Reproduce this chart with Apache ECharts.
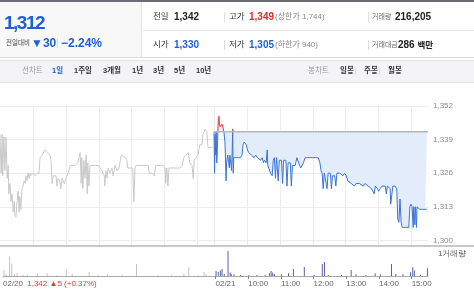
<!DOCTYPE html>
<html><head><meta charset="utf-8">
<script src="https://cdn.jsdelivr.net/npm/echarts@6/dist/echarts.min.js"></script>
<style>
body{margin:0;background:#fff;font-family:"Liberation Sans","Noto Sans CJK KR",sans-serif;}
#wrap{position:relative;width:474px;height:304px;overflow:hidden;}
#chart{position:absolute;left:0;top:0;width:474px;height:304px;}
.a{position:absolute;white-space:nowrap;line-height:1;}
.lb{font-size:8.5px;color:#333;}
.v{font-size:10px;font-weight:bold;color:#222;}
.g{font-size:8px;color:#888;}
.sep{position:absolute;width:1px;height:10px;background:#ddd;}
.tb{position:absolute;font-size:7.5px;color:#333;font-weight:bold;line-height:1;white-space:nowrap;}
</style></head>
<body><div id="wrap">
<div id="chart"></div>
<div style="position:absolute;left:0;top:0;width:474px;height:2px;background:#6b6e74"></div>
<div style="position:absolute;left:0;top:2px;width:141px;height:55px;background:#f8f8f9;border-right:1px solid #e3e3e3"></div>
<div style="position:absolute;left:0;top:57px;width:474px;height:1px;background:#dcdcdc"></div>
<div style="position:absolute;left:142px;top:30px;width:332px;height:1px;background:#e8e8e8"></div>
<div class="a" style="left:4px;top:13px;font-size:19px;font-weight:bold;color:#1f5fd5;letter-spacing:-1.5px">1,312</div>
<div class="a" style="left:6px;top:40px;font-size:6.5px;color:#444">전일대비</div>
<div class="a" style="left:31px;top:37px;font-size:12px;font-weight:bold;color:#1f5fd5">▼30</div>
<div class="sep" style="left:57px;top:38px;height:10px"></div>
<div class="a" style="left:61px;top:37px;font-size:12px;font-weight:bold;color:#1f5fd5">−2.24%</div>

<div class="a lb" style="left:153px;top:12px">전일</div>
<div class="a v" style="left:174px;top:12px">1,342</div>
<div class="sep" style="left:224px;top:12px"></div>
<div class="a lb" style="left:229px;top:12px">고가</div>
<div class="a v" style="left:249px;top:12px;color:#e3262e">1,349</div>
<div class="a g" style="left:275px;top:13px">(상한가 1,744)</div>
<div class="sep" style="left:368px;top:12px"></div>
<div class="a g" style="left:372px;top:13px;font-size:7px;color:#666">거래량</div>
<div class="a v" style="left:395px;top:12px">216,205</div>

<div class="a lb" style="left:153px;top:40px">시가</div>
<div class="a v" style="left:174px;top:40px;color:#1f5fd5">1,330</div>
<div class="sep" style="left:224px;top:40px"></div>
<div class="a lb" style="left:229px;top:40px">저가</div>
<div class="a v" style="left:249px;top:40px;color:#1f5fd5">1,305</div>
<div class="a g" style="left:275px;top:41px">(하한가 940)</div>
<div class="sep" style="left:368px;top:40px"></div>
<div class="a g" style="left:372px;top:41px;font-size:7px;color:#666">거래대금</div>
<div class="a v" style="left:398px;top:40px">286 <span style="font-size:8.5px">백만</span></div>

<div style="position:absolute;left:0;top:60px;width:474px;height:21px;background:#f4f4f6;border-top:1px solid #e0e0e0;border-bottom:1px solid #e0e0e0"></div>
<div class="tb" style="left:22px;top:67px;color:#999;font-weight:normal">선차트</div>
<div class="tb" style="left:52px;top:67px;color:#1f5fd5">1일</div>
<div class="tb" style="left:74px;top:67px">1주일</div>
<div class="tb" style="left:103px;top:67px">3개월</div>
<div class="tb" style="left:132px;top:67px">1년</div>
<div class="tb" style="left:153px;top:67px">3년</div>
<div class="tb" style="left:174px;top:67px">5년</div>
<div class="tb" style="left:196px;top:67px">10년</div>
<div class="tb" style="left:308px;top:67px;color:#999;font-weight:normal">봉차트</div>
<div class="tb" style="left:340px;top:67px">일봉</div>
<div class="sep" style="left:355px;top:67px;height:8px"></div>
<div class="tb" style="left:364px;top:67px">주봉</div>
<div class="sep" style="left:379px;top:67px;height:8px"></div>
<div class="tb" style="left:388px;top:67px">월봉</div>
</div>
<script>
// ---- data ----
const SESSION = 390; // minutes per trading session (09:00-15:30)
const prevClose = 1342;
const priceTicks = [1300, 1313, 1326, 1339, 1352];
const gridMinutes = [60, 120, 180, 240, 300, 360, 390, 450, 510, 570, 630, 690, 750];
const labelMinutes = [0, 390, 450, 510, 570, 630, 690, 750];
const labelTexts = ['02/20', '02/21', '10:00', '11:00', '12:00', '13:00', '14:00', '15:00'];
const tickMinutes = [390, 450, 510, 570, 630, 690, 750];
const prevDayNote = '1,342 ▲5 (+0.37%)';

const prevMin = [0,2,4,5,7,9,11,13,15,16,18,20,22,24,26,27,29,31,33,35,36,38,40,42,44,46,47,49,51,53,55,56,60,64,67,71,73,77,82,86,91,93,95,97,102,104,106,109,111,113,117,120,124,128,131,137,142,146,148,149,151,153,155,157,159,160,162,164,168,173,179,182,186,190,191,193,195,197,200,204,206,210,213,217,221,224,228,231,233,237,242,244,246,248,255,264,270,272,277,281,284,292,297,301,302,304,306,308,313,321,328,332,335,339,343,346,350,352,354,357,361,364,368,370,374,377,379,383,388];
const prevPrice = [1341,1326,1341,1325,1340,1327,1340,1324,1329,1318,1322,1315,1318,1311,1315,1310,1309,1315,1319,1311,1317,1312,1320,1321,1323,1322,1325,1323,1326,1324,1326,1325,1326,1325,1326,1326,1332,1333,1335,1334,1333,1331,1322,1325,1325,1321,1324,1323,1320,1324,1322,1324,1326,1329,1329,1329,1330,1334,1322,1332,1320,1331,1324,1333,1318,1330,1321,1329,1329,1329,1329,1329,1327,1325,1321,1327,1324,1328,1326,1328,1325,1329,1327,1328,1333,1333,1332,1331,1328,1328,1328,1315,1328,1329,1329,1329,1329,1326,1326,1325,1329,1329,1329,1328,1322,1328,1321,1328,1328,1328,1328,1329,1332,1333,1334,1330,1329,1324,1331,1331,1333,1337,1337,1341,1343,1342,1336,1336,1336];

const todayMin = [0,1,2,3,4,5,6,7,8,9,10,11,13,15,17,18,20,22,23,25,27,28,29,31,32,33,34,35,36,40,44,48,51,53,55,57,59,61,63,66,68,70,73,76,79,82,85,88,90,92,95,97,98,101,103,106,108,110,112,114,117,119,123,125,127,131,133,135,139,141,143,148,151,153,156,158,161,163,166,170,175,180,186,190,193,195,197,199,201,204,206,208,212,214,216,220,222,224,229,232,235,238,241,244,247,250,253,256,259,262,265,268,272,275,278,281,284,287,290,292,294,298,300,303,306,309,312,314,316,318,321,322,324,326,330,333,335,337,339,341,343,347,351,355,357,359,361,363,364,366,367,369,370,372,375,380,385,388];
const todayPrice = [1342,1326,1341,1333,1342,1330,1334,1342,1347,1348,1345,1344,1344,1345,1345,1342,1338,1323,1330,1333,1333,1328,1333,1333,1327,1333,1343,1326,1332,1332,1332,1332,1333,1337,1338,1338,1337,1335,1334,1334,1333,1333,1332,1333,1332,1332,1331,1332,1330,1331,1330,1335,1329,1329,1326,1325,1331,1332,1324,1332,1323,1331,1331,1322,1331,1331,1321,1330,1330,1321,1329,1329,1332,1332,1329,1328,1328,1330,1332,1332,1332,1332,1332,1332,1330,1327,1326,1320,1326,1326,1320,1326,1326,1320,1325,1325,1321,1326,1326,1326,1325,1326,1325,1323,1323,1322,1322,1321,1322,1322,1322,1322,1321,1322,1322,1321,1321,1320,1320,1318,1321,1320,1319,1320,1321,1321,1321,1318,1321,1321,1320,1314,1314,1321,1321,1320,1308,1307,1316,1307,1305,1305,1305,1305,1313,1314,1313,1305,1313,1306,1313,1305,1313,1313,1312,1312,1312,1312];

const prevVolMin = [3,7,13,17,22,27,38,46,64,82,100,117,128,159,175,193,220,246,286,310,333,342,360,370,374];
const prevVol = [4200,1400,14000,9000,1400,2000,700,700,2000,2000,700,5000,1500,2800,700,1200,700,8500,800,700,1400,6300,700,2800,1200];
const todayVolMin = [0,4,8,11,15,22,26,28,33,45,60,75,90,98,101,104,107,120,133,142,162,180,195,199,206,230,248,257,275,292,302,322,330,343,357,361,364,375,388];
const todayVol = [3500,2800,4000,5000,1500,17800,2500,1200,1200,700,600,800,900,2000,3500,2500,1500,1200,2000,5000,6500,900,8500,10000,800,700,4200,1200,700,2000,1200,8500,1500,1300,2600,6300,4000,900,5500];

// ---- chart ----
const chart = echarts.init(document.getElementById('chart'), null, {renderer: 'canvas'});
const font = '"Liberation Sans","Noto Sans CJK KR",sans-serif';
const fmt = v => v.toLocaleString('en-US');
chart.setOption({
  animation: false,
  backgroundColor: '#fff',
  textStyle: {fontFamily: font},
  grid: [
    {left: 0, right: 46, top: 106, bottom: 59},
    {left: 0, right: 46, top: 248, bottom: 28}
  ],
  xAxis: [
    {type: 'value', gridIndex: 0, min: 0, max: SESSION * 2,
     axisLine: {show: false}, axisLabel: {show: false},
     axisTick: {show: false, customValues: gridMinutes},
     splitLine: {show: true, lineStyle: {color: '#ececec', width: 1}}},
    {type: 'value', gridIndex: 1, min: 0, max: SESSION * 2,
     axisLine: {show: true, lineStyle: {color: '#a9a9a9'}},
     axisTick: {show: true, length: 3, customValues: tickMinutes, lineStyle: {color: '#888'}},
     splitLine: {show: false},
     axisLabel: {show: true, customValues: labelMinutes, align: 'left', margin: 4,
       fontSize: 8, color: '#666', fontFamily: font,
       formatter: v => {
         const t = labelTexts[labelMinutes.indexOf(v)];
         return v === 0 ? t + ' {r|' + prevDayNote + '}' : t;
       },
       rich: {r: {color: '#e5363f', fontSize: 8, padding: [0, 0, 0, 2], fontFamily: font}}}}
  ],
  yAxis: [
    {type: 'value', gridIndex: 0, position: 'right', min: 1298.2, max: 1352,
     axisLine: {show: false},
     axisTick: {show: false, customValues: priceTicks},
     axisLabel: {customValues: priceTicks, formatter: fmt, fontSize: 8, color: '#8a8a8a', margin: 5, fontFamily: font},
     splitLine: {show: true, lineStyle: {color: '#ececec'}}},
    {type: 'value', gridIndex: 1, min: 0, max: 20000, show: false, splitLine: {show: false}}
  ],
  visualMap: {show: false, type: 'piecewise', seriesIndex: 1, dimension: 1, min: 1200, max: 1500,
    pieces: [{gt: prevClose, lte: 1500, color: '#e8343c'}, {gte: 1200, lte: prevClose, color: '#3a73d8'}]},
  graphic: [
    {type: 'rect', left: 0, top: 245, shape: {width: 474, height: 2}, style: {fill: '#c8c8c8'}, silent: true},
    {type: 'text', left: 438, top: 250, style: {text: '1거래량', fontSize: 8, fill: '#555', font: '8px ' + font}}
  ],
  series: [
    {type: 'line', xAxisIndex: 0, yAxisIndex: 0, showSymbol: false, silent: true,
     data: prevMin.map((m, i) => [m, prevPrice[i]]),
     lineStyle: {color: '#c9c9c9', width: 1}},
    {type: 'line', xAxisIndex: 0, yAxisIndex: 0, showSymbol: false, silent: true,
     data: todayMin.map((m, i) => [SESSION + m, todayPrice[i]]),
     lineStyle: {width: 1},
     areaStyle: {origin: prevClose, color: '#e3ecfa', opacity: 1}},
    {type: 'line', xAxisIndex: 0, yAxisIndex: 0, showSymbol: false, silent: true,
     data: [[SESSION, prevClose], [SESSION * 2, prevClose]],
     lineStyle: {color: '#b3b7bf', width: 1.5}},
    {type: 'bar', xAxisIndex: 1, yAxisIndex: 1, barWidth: 1, silent: true,
     data: prevVolMin.map((m, i) => [m, prevVol[i]]), itemStyle: {color: '#c3c3c9'}},
    {type: 'bar', xAxisIndex: 1, yAxisIndex: 1, barWidth: 1, silent: true,
     data: todayVolMin.map((m, i) => [SESSION + m, todayVol[i]]), itemStyle: {color: '#5b5ea8'}}
  ]
});
</script>
</body></html>
